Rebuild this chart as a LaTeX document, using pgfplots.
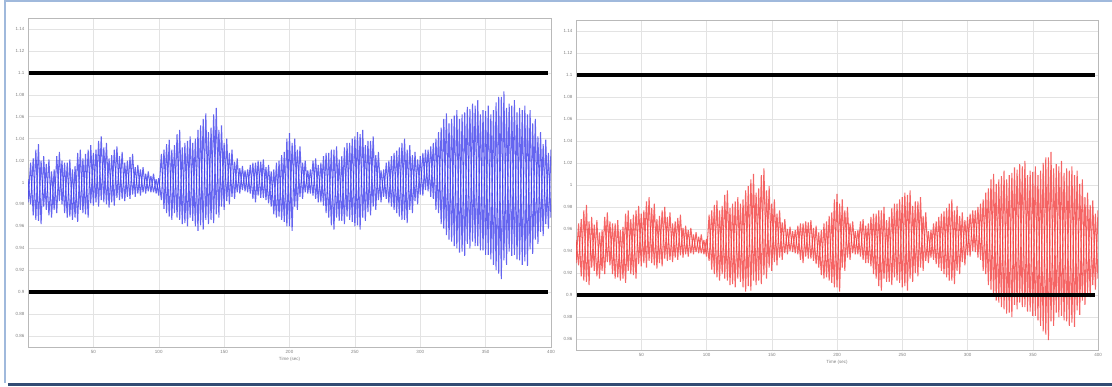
\documentclass[border=0pt]{standalone}
\usepackage{fontspec}
\setmainfont{Liberation Sans}
\usepackage{pgfplots}
\usepackage{pgfplotstable}
\pgfplotsset{compat=1.18}
\definecolor{sigblue}{RGB}{50,50,235}
\definecolor{sigred}{RGB}{242,50,50}
\definecolor{frameblue}{RGB}{160,185,220}
\definecolor{navy}{RGB}{50,75,115}

\pgfplotstableread{
t b r b2 r2
0 1.003 0.950 0.982 0.929
2 0.980 0.927 1.018 0.965
4 1.022 0.969 0.970 0.917
6 0.966 0.913 1.030 0.977
8 1.035 0.982 0.965 0.912
10 0.962 0.909 1.020 0.967
12 1.024 0.971 0.978 0.925
14 0.975 0.922 1.017 0.964
16 1.021 0.968 0.970 0.917
18 0.968 0.915 1.010 0.957
20 1.012 0.959 0.975 0.922
22 0.972 0.919 1.024 0.971
24 1.028 0.975 0.983 0.930
26 0.980 0.927 1.020 0.967
28 1.018 0.965 0.972 0.919
30 0.968 0.915 1.018 0.965
32 1.021 0.968 0.969 0.916
34 0.966 0.913 1.012 0.959
36 1.015 0.962 0.968 0.915
38 0.964 0.911 1.027 0.974
40 1.030 0.977 0.975 0.922
42 0.972 0.919 1.022 0.969
44 1.026 0.973 0.971 0.918
46 0.968 0.915 1.030 0.977
48 1.034 0.981 0.981 0.928
50 0.979 0.926 1.027 0.974
52 1.030 0.977 0.982 0.929
54 0.978 0.925 1.038 0.985
56 1.042 0.989 0.984 0.931
58 0.982 0.929 1.032 0.979
60 1.036 0.983 0.980 0.927
62 0.977 0.924 1.022 0.969
64 1.025 0.972 0.982 0.929
66 0.979 0.926 1.030 0.977
68 1.033 0.980 0.986 0.933
70 0.984 0.931 1.024 0.971
72 1.028 0.975 0.985 0.932
74 0.983 0.930 1.018 0.965
76 1.020 0.967 0.987 0.934
78 0.985 0.932 1.023 0.970
80 1.026 0.973 0.989 0.936
82 0.987 0.934 1.014 0.961
84 1.016 0.963 0.990 0.937
86 0.988 0.935 1.012 0.959
88 1.014 0.961 0.991 0.938
90 0.990 0.937 1.008 0.955
92 1.010 0.957 0.992 0.939
94 0.991 0.938 1.006 0.953
96 1.008 0.955 0.991 0.938
98 0.990 0.937 1.003 0.950
100 1.004 0.951 0.988 0.935
102 0.984 0.931 1.026 0.973
104 1.030 0.977 0.976 0.923
106 0.972 0.919 1.035 0.982
108 1.039 0.986 0.969 0.916
110 0.966 0.913 1.030 0.977
112 1.034 0.981 0.972 0.919
114 0.968 0.915 1.044 0.991
116 1.048 0.995 0.966 0.913
118 0.962 0.909 1.032 0.979
120 1.036 0.983 0.963 0.910
122 0.960 0.907 1.038 0.985
124 1.042 0.989 0.968 0.915
126 0.965 0.912 1.036 0.983
128 1.040 0.987 0.960 0.907
130 0.956 0.903 1.048 0.995
132 1.052 0.999 0.961 0.908
134 0.957 0.904 1.058 1.005
136 1.063 1.010 0.966 0.913
138 0.962 0.909 1.046 0.993
140 1.050 0.997 0.966 0.913
142 0.963 0.910 1.062 1.009
144 1.068 1.015 0.971 0.918
146 0.968 0.915 1.048 0.995
148 1.052 0.999 0.978 0.925
150 0.975 0.922 1.036 0.983
152 1.040 0.987 0.983 0.930
154 0.980 0.927 1.027 0.974
156 1.030 0.977 0.987 0.934
158 0.985 0.932 1.019 0.966
160 1.022 0.969 0.991 0.938
162 0.990 0.937 1.013 0.960
164 1.015 0.962 0.993 0.940
166 0.992 0.939 1.011 0.958
168 1.012 0.959 0.991 0.938
170 0.990 0.937 1.016 0.963
172 1.018 0.965 0.985 0.932
174 0.982 0.929 1.018 0.965
176 1.020 0.967 0.988 0.935
178 0.986 0.933 1.019 0.966
180 1.021 0.968 0.986 0.933
182 0.984 0.931 1.014 0.961
184 1.016 0.963 0.981 0.928
186 0.978 0.925 1.010 0.957
188 1.012 0.959 0.971 0.918
190 0.968 0.915 1.018 0.965
192 1.020 0.967 0.969 0.916
194 0.966 0.913 1.025 0.972
196 1.028 0.975 0.964 0.911
198 0.960 0.907 1.040 0.987
200 1.045 0.992 0.960 0.907
202 0.956 0.903 1.036 0.983
204 1.040 0.987 0.978 0.925
206 0.975 0.922 1.030 0.977
208 1.033 0.980 0.987 0.934
210 0.985 0.932 1.018 0.965
212 1.020 0.967 0.991 0.938
214 0.990 0.937 1.011 0.958
216 1.012 0.959 0.990 0.937
218 0.988 0.935 1.020 0.967
220 1.022 0.969 0.985 0.932
222 0.982 0.929 1.016 0.963
224 1.018 0.965 0.982 0.929
226 0.979 0.926 1.024 0.971
228 1.027 0.974 0.972 0.919
230 0.968 0.915 1.027 0.974
232 1.030 0.977 0.961 0.908
234 0.957 0.904 1.030 0.977
236 1.033 0.980 0.968 0.915
238 0.965 0.912 1.021 0.968
240 1.024 0.971 0.965 0.912
242 0.962 0.909 1.032 0.979
244 1.036 0.983 0.969 0.916
246 0.966 0.913 1.036 0.983
248 1.040 0.987 0.964 0.911
250 0.960 0.907 1.042 0.989
252 1.046 0.993 0.961 0.908
254 0.957 0.904 1.044 0.991
256 1.048 0.995 0.968 0.915
258 0.965 0.912 1.034 0.981
260 1.038 0.985 0.973 0.920
262 0.970 0.917 1.038 0.985
264 1.042 0.989 0.978 0.925
266 0.975 0.922 1.025 0.972
268 1.028 0.975 0.984 0.931
270 0.982 0.929 1.011 0.958
272 1.012 0.959 0.987 0.934
274 0.985 0.932 1.018 0.965
276 1.020 0.967 0.981 0.928
278 0.978 0.925 1.024 0.971
280 1.027 0.974 0.975 0.922
282 0.972 0.919 1.029 0.976
284 1.032 0.979 0.969 0.916
286 0.966 0.913 1.036 0.983
288 1.040 0.987 0.966 0.913
290 0.963 0.910 1.030 0.977
292 1.034 0.981 0.975 0.922
294 0.972 0.919 1.025 0.972
296 1.028 0.975 0.983 0.930
298 0.980 0.927 1.021 0.968
300 1.024 0.971 0.989 0.936
302 0.988 0.935 1.027 0.974
304 1.030 0.977 0.993 0.940
306 0.992 0.939 1.030 0.977
308 1.033 0.980 0.987 0.934
310 0.985 0.932 1.036 0.983
312 1.040 0.987 0.975 0.922
314 0.972 0.919 1.046 0.993
316 1.050 0.997 0.962 0.909
318 0.958 0.905 1.058 1.005
320 1.063 1.010 0.952 0.899
322 0.948 0.895 1.054 1.001
324 1.058 1.005 0.946 0.893
326 0.942 0.889 1.061 1.008
328 1.066 1.013 0.940 0.887
330 0.936 0.883 1.058 1.005
332 1.062 1.009 0.937 0.884
334 0.933 0.880 1.064 1.011
336 1.069 1.016 0.944 0.891
338 0.940 0.887 1.067 1.014
340 1.072 1.019 0.946 0.893
342 0.942 0.889 1.070 1.017
344 1.075 1.022 0.942 0.889
346 0.938 0.885 1.062 1.009
348 1.066 1.013 0.938 0.885
350 0.934 0.881 1.065 1.012
352 1.070 1.017 0.934 0.881
354 0.930 0.877 1.062 1.009
356 1.066 1.013 0.925 0.872
358 0.920 0.867 1.073 1.020
360 1.078 1.025 0.917 0.864
362 0.912 0.859 1.078 1.025
364 1.083 1.030 0.929 0.876
366 0.925 0.872 1.068 1.015
368 1.072 1.019 0.937 0.884
370 0.933 0.880 1.070 1.017
372 1.075 1.022 0.934 0.881
374 0.930 0.877 1.064 1.011
376 1.068 1.015 0.929 0.876
378 0.925 0.872 1.066 1.013
380 1.070 1.017 0.928 0.875
382 0.924 0.871 1.062 1.009
384 1.066 1.013 0.939 0.886
386 0.935 0.882 1.054 1.001
388 1.058 1.005 0.948 0.895
390 0.944 0.891 1.042 0.989
392 1.046 0.993 0.955 0.902
394 0.951 0.898 1.035 0.982
396 1.039 0.986 0.962 0.909
398 0.958 0.905 1.027 0.974
400 1.030 0.977 0.968 0.915
}\sig

\pgfplotsset{myax/.style={
  scale only axis,
  xmin=0, xmax=400, ymin=0.85, ymax=1.15,
  xtick={50,100,150,200,250,300,350,400},
  ytick={0.86,0.88,0.9,0.92,0.94,0.96,0.98,1,1.02,1.04,1.06,1.08,1.1,1.12,1.14},
  yticklabel style={/pgf/number format/.cd, fixed, precision=2},
  grid=major,
  major grid style={gray!22, line width=0.5pt},
  axis line style={gray!55, line width=0.6pt},
  tick style={draw=none},
  ticklabel style={font=\fontsize{4.5}{5}\selectfont, text=gray},
  /pgf/number format/assume math mode=true,
  xlabel={Time (sec)},
  xlabel style={font=\fontsize{4.5}{5}\selectfont, text=gray, yshift=3pt},
}}

\begin{document}
\begin{tikzpicture}[x=1pt,y=1pt]
\useasboundingbox (0,0) rectangle (1112,387);
\draw[frameblue, line width=2pt] (4.5,4) -- (4.5,386) -- (1112,386);
\draw[navy, line width=3pt] (8,2.5) -- (1112,2.5);
\begin{axis}[myax, at={(28pt,40pt)}, anchor=south west, width=523pt, height=329pt]
\addplot[sigblue, line width=1.05pt, opacity=0.75, line join=bevel] table[x=t, y=b]{\sig};
\addplot[sigblue, line width=1.05pt, opacity=0.75, line join=bevel] table[x=t, y=b2]{\sig};
\addplot[black, line width=4.5pt] coordinates {(1,1.1) (398,1.1)};
\addplot[black, line width=4.5pt] coordinates {(1,0.9) (398,0.9)};
\end{axis}
\begin{axis}[myax, at={(576pt,37pt)}, anchor=south west, width=522pt, height=330pt]
\addplot[sigred, line width=1.05pt, opacity=0.75, line join=bevel] table[x=t, y=r]{\sig};
\addplot[sigred, line width=1.05pt, opacity=0.75, line join=bevel] table[x=t, y=r2]{\sig};
\addplot[black, line width=4.5pt] coordinates {(1,1.1) (398,1.1)};
\addplot[black, line width=4.5pt] coordinates {(1,0.9) (398,0.9)};
\end{axis}
\end{tikzpicture}
\end{document}
